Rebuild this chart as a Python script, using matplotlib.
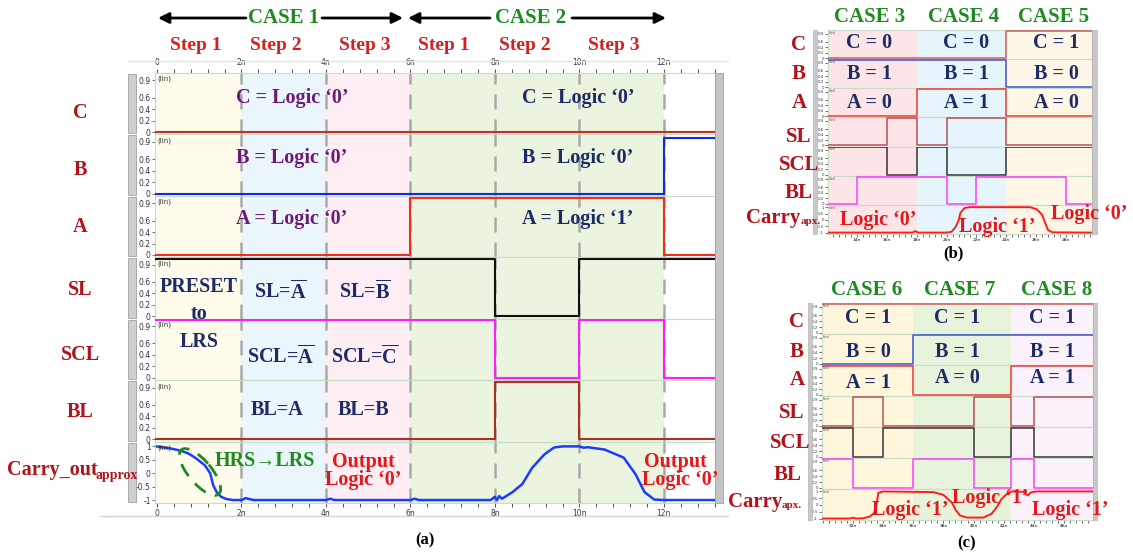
import matplotlib
matplotlib.use("Agg")
import matplotlib.pyplot as plt
from matplotlib.patches import Ellipse, Rectangle
from matplotlib.ticker import MultipleLocator

plt.rcParams['mathtext.fontset'] = 'custom'
plt.rcParams['mathtext.rm'] = 'Liberation Serif:bold'
plt.rcParams['mathtext.it'] = 'Liberation Serif:bold'
plt.rcParams['mathtext.bf'] = 'Liberation Serif:bold'

W, H = 1133, 554
SERIF = ['Liberation Serif', 'DejaVu Serif']

NAVY = '#1c2a66'
PURPLE = '#6e1a72'
DKRED = '#b3121a'
RED = '#e8161a'
GREEN = '#1f8a1f'

# ---------------- panel (a) data ----------------
a_rows = ['C', 'B', 'A', 'SL', 'SCL', 'BL']
a_xlim = (-0.047, 13.21)
a_steps = [(0, 2), (2, 4), (4, 6), (6, 12)]
a_step_colors = ['#fefbea', '#eaf6fb', '#fdeef3', '#eaf4df']
a_dashes = [2, 4, 6, 8, 10, 12]
a_C_t = [-0.05, 13.3]
a_C_v = [0]
a_B_t = [-0.05, 12, 13.3]
a_B_v = [0, 0.97]
a_A_t = [-0.05, 6, 12, 13.3]
a_A_v = [0, 1, 0]
a_SL_t = [-0.05, 8, 10, 13.3]
a_SL_v = [1, 0, 1]
a_SCL_t = [-0.05, 8, 10, 12, 13.3]
a_SCL_v = [1, 0, 1, 0]
a_BL_t = [-0.05, 8, 10, 13.3]
a_BL_v = [0, 1, 0]
a_colors = ['#c0302a', '#1426e6', '#f0301a', '#111111', '#ff1aff', '#b03020']
a_carry_t = [0, 0.1, 0.3, 0.54, 0.74, 0.93, 1.13, 1.26, 1.33, 1.41, 1.52, 1.64, 1.8,
             2.0, 2.1, 2.2, 2.3, 4.0, 4.1, 4.2, 6.0, 6.1, 6.2, 7.9, 8.0, 8.05, 8.1,
             8.17, 8.42, 8.65, 8.88, 9.17, 9.4, 9.6, 10.0, 10.1, 10.2, 10.6, 11.05,
             11.33, 11.54, 11.77, 12.0, 13.21]
a_carry_v = [1.0, 0.97, 0.93, 0.85, 0.74, 0.55, 0.3, 0.0, -0.44, -0.7, -0.88, -0.96, -1.0,
             -1.0, -0.93, -0.97, -1.0, -1.0, -0.95, -1.0, -1.0, -0.95, -1.0, -1.0, -0.88, -1.0, -0.85,
             -0.95, -0.7, -0.4, 0.2, 0.7, 0.96, 1.0, 1.0, 0.95, 0.97, 0.88, 0.58,
             -0.04, -0.7, -0.98, -1.0, -1.0]
a_ticks = [0, 2, 4, 6, 8, 10, 12]
a_ticklabels = ['0', '2n', '4n', '6n', '8n', '10n', '12n']

# ---------------- panel (b) data ----------------
b_xlim = (12.05, 29.75)
b_cases = [(12, 18), (18, 24), (24, 30)]
b_case_colors = ['#fde4e6', '#e6f4fb', '#fef6e6']
b_C_t = [12, 24, 30]
b_C_v = [0, 1]
b_B_t = [12, 24, 30]
b_B_v = [1, 0]
b_A_t = [12, 18, 24, 30]
b_A_v = [0, 1, 0]
b_SL_t = [12, 16, 18, 20, 24, 30]
b_SL_v = [0, 1, 0, 1, 0]
b_SCL_t = [12, 16, 18, 20, 24, 30]
b_SCL_v = [1, 0, 1, 0, 1]
b_BL_t = [12, 14, 20, 22, 28, 30]
b_BL_v = [0, 1, 0, 1, 0]
b_colors = ['#d05a5a', '#3a52d8', '#f03a30', '#b85050', '#333333', '#ff3cff']
b_carry_t = [12.05, 17.7, 17.9, 18.1, 19.9, 20.1, 20.34, 20.6, 20.8, 20.93, 21.2, 21.55,
             25.6, 26.05, 26.4, 26.6, 26.8, 27.1, 29.75]
b_carry_v = [-1, -1, -0.88, -1, -1, -0.98, -0.93, -0.56, -0.06, 0.55, 0.93, 1.0,
             1.0, 0.83, 0.4, -0.2, -0.8, -0.98, -1]
b_ticks = [14, 16, 18, 20, 22, 24, 26, 28]
b_ticklabels = ['14n', '16n', '18n', '20n', '22n', '24n', '26n', '28n']

# ---------------- panel (c) data ----------------
c_xlim = (29.94, 47.93)
c_cases = [(29, 36), (36, 42.5), (42.5, 48)]
c_case_colors = ['#fff6dc', '#e8f3dc', '#faf1fa']
c_C_t = [29.9, 48]
c_C_v = [1]
c_B_t = [29.9, 36, 48]
c_B_v = [0, 1]
c_A_t = [29.9, 36, 42.5, 48]
c_A_v = [1, 0, 1]
c_SL_t = [29.9, 32, 34, 40, 42.5, 44, 48]
c_SL_v = [0, 1, 0, 1, 0, 1]
c_SCL_t = [29.9, 32, 34, 40, 42.5, 44, 48]
c_SCL_v = [1, 0, 1, 0, 1, 0]
c_BL_t = [29.9, 32, 36, 40, 42.5, 44, 48]
c_BL_v = [1, 0, 1, 0, 1, 0]
c_colors = ['#c86060', '#3a52d8', '#f03a30', '#b85050', '#333333', '#ff3cff']
c_carry_t = [29.94, 31.8, 32.0, 32.2, 32.69, 33.13, 33.39, 33.57, 33.68, 34.0, 37.33,
             37.99, 38.55, 38.83, 39.1, 39.55, 40.65, 41.2, 41.54, 41.87, 42.2, 42.53,
             43.3, 43.6, 43.8, 44.2, 47.93]
c_carry_v = [-1, -1, -0.94, -1, -0.98, -0.85, -0.6, 0.1, 0.9, 1.0, 0.95,
             0.75, 0.2, -0.4, -0.77, -0.93, -0.93, -0.65, -0.16, 0.45, 0.8, 1.0,
             0.97, 0.7, 0.93, 1.0, 1.0]
c_ticks = [32, 34, 36, 38, 40, 42, 44, 46]
c_ticklabels = ['32n', '34n', '36n', '38n', '40n', '42n', '44n', '46n']


fig = plt.figure(figsize=(W / 100, H / 100), dpi=100)


def px_axes(x0, y0, x1, y1):
    return fig.add_axes([x0 / W, 1 - y1 / H, (x1 - x0) / W, (y1 - y0) / H])


def step_line(ax, ts, vs, color, lw):
    ax.step(ts, list(vs) + [vs[-1]], where='post', color=color, lw=lw, zorder=3)


def make_panel(x0, x1, ytop, ybot, xlim, spans, span_colors, sig_t, sig_v, colors,
               carry_t, carry_v, carry_color, lw, tfs, lin_fs):
    h = (ybot - ytop) / 7
    axes = []
    for i in range(7):
        ax = px_axes(x0, ytop + i * h, x1, ytop + (i + 1) * h)
        ax.set_xlim(*xlim)
        for (s0, s1), c in zip(spans, span_colors):
            ax.axvspan(s0, s1, color=c, lw=0, zorder=0)
        for sp in ax.spines.values():
            sp.set_color('#c6dcc6')
            sp.set_linewidth(0.8)
        ax.set_xticks([])
        if i < 6:
            step_line(ax, sig_t[i], sig_v[i], colors[i], lw)
            ax.set_ylim(-0.04, 1.03)
            ax.set_yticks([0, 0.2, 0.4, 0.6, 0.9])
            ax.set_yticklabels(['0', '0.2', '0.4', '0.6', '0.9'])
        else:
            ax.plot(carry_t, carry_v, color=carry_color, lw=lw + 0.3, zorder=3)
            ax.set_ylim(-1.11, 1.18)
            ax.set_yticks([-1, -0.5, 0, 0.5, 1])
            ax.set_yticklabels(['-1', '-0.5', '0', '0.5', '1'])
        ax.tick_params(axis='y', labelsize=tfs, length=2, pad=1, colors='#333333',
                       width=0.5)
        ax.text(0.004, 0.9, '(lin)', transform=ax.transAxes, fontsize=lin_fs,
                va='center', ha='left', color='#333333', zorder=4)
        axes.append(ax)
    return axes


# ---- panel (a)
a_sig_t = [a_C_t, a_B_t, a_A_t, a_SL_t, a_SCL_t, a_BL_t]
a_sig_v = [a_C_v, a_B_v, a_A_v, a_SL_v, a_SCL_v, a_BL_v]
axa = make_panel(155, 715, 73, 503, a_xlim, a_steps, a_step_colors, a_sig_t, a_sig_v,
                 a_colors, a_carry_t, a_carry_v, '#1a3cff', 1.5, 5.5, 5)
for ax in axa:
    for t in a_dashes:
        ax.axvline(t, color='#a9a9a9', lw=1.8, dashes=(6, 4), zorder=2)
top = axa[0]
top.xaxis.set_ticks_position('top')
top.set_xticks(a_ticks)
top.set_xticklabels(a_ticklabels)
top.xaxis.set_minor_locator(MultipleLocator(0.4))
top.tick_params(axis='x', which='both', labelsize=5.5, length=3, pad=1, width=0.6,
                colors='#333333')
bot = axa[-1]
bot.set_xticks(a_ticks)
bot.set_xticklabels(a_ticklabels)
bot.xaxis.set_minor_locator(MultipleLocator(0.4))
bot.tick_params(axis='x', which='both', labelsize=5.5, length=3, pad=1, width=0.6,
                colors='#333333')

# ---- panel (b)
b_sig_t = [b_C_t, b_B_t, b_A_t, b_SL_t, b_SCL_t, b_BL_t]
b_sig_v = [b_C_v, b_B_v, b_A_v, b_SL_v, b_SCL_v, b_BL_v]
axb = make_panel(828, 1092, 30, 234, b_xlim, b_cases, b_case_colors, b_sig_t, b_sig_v,
                 b_colors, b_carry_t, b_carry_v, '#ff1e1e', 1.1, 2.8, 2.5)
axb[-1].set_xticks(b_ticks)
axb[-1].set_xticklabels(b_ticklabels)
axb[-1].xaxis.set_minor_locator(MultipleLocator(0.4))
axb[-1].tick_params(axis='x', which='both', labelsize=3.2, length=2, pad=1, width=0.4)

# ---- panel (c)
c_sig_t = [c_C_t, c_B_t, c_A_t, c_SL_t, c_SCL_t, c_BL_t]
c_sig_v = [c_C_v, c_B_v, c_A_v, c_SL_v, c_SCL_v, c_BL_v]
axc = make_panel(822, 1093, 303, 520, c_xlim, c_cases, c_case_colors, c_sig_t, c_sig_v,
                 c_colors, c_carry_t, c_carry_v, '#ff1e1e', 1.1, 2.8, 2.5)
axc[-1].set_xticks(c_ticks)
axc[-1].set_xticklabels(c_ticklabels)
axc[-1].xaxis.set_minor_locator(MultipleLocator(0.4))
axc[-1].tick_params(axis='x', which='both', labelsize=3.2, length=2, pad=1, width=0.4)

# ---------------- overlay in pixel coordinates ----------------
ov = fig.add_axes([0, 0, 1, 1], zorder=10)
ov.set_xlim(0, W)
ov.set_ylim(H, 0)
ov.axis('off')
ov.patch.set_alpha(0)


def T(x, y, s, color, size, ha='center', va='center'):
    ov.text(x, y, s, color=color, fontsize=size, family=SERIF, weight='bold',
            ha=ha, va=va)


# scroll bars / frame decorations
h_a = (503 - 73) / 7
for i in range(7):
    ov.add_patch(Rectangle((128, 73 + i * h_a + 1), 8, h_a - 2, fc='#cfcfcf',
                           ec='#a0a0a0', lw=0.6))
ov.add_patch(Rectangle((715, 73), 8, 430, fc='#c4c4c4', ec='#a0a0a0', lw=0.6))
ov.plot([128, 728], [61, 61], color='#d8ead8', lw=1)
ov.plot([100, 728], [516, 516], color='#c6dcc6', lw=1)
ov.add_patch(Rectangle((813, 30), 4, 204, fc='#c8c8c8', ec='#a8a8a8', lw=0.4))
ov.add_patch(Rectangle((1092, 30), 5, 204, fc='#c8c8c8', ec='#a8a8a8', lw=0.4))
ov.add_patch(Rectangle((808, 303), 4, 217, fc='#c8c8c8', ec='#a8a8a8', lw=0.4))
ov.add_patch(Rectangle((1093, 303), 4, 217, fc='#c8c8c8', ec='#a8a8a8', lw=0.4))

# panel (a) headers
arrow = dict(arrowstyle='-|>', lw=2, color='black', mutation_scale=16,
             shrinkA=0, shrinkB=0)
ov.annotate('', xy=(158, 18), xytext=(246, 18), arrowprops=arrow)
ov.annotate('', xy=(403, 18), xytext=(322, 18), arrowprops=arrow)
ov.annotate('', xy=(408, 18), xytext=(490, 18), arrowprops=arrow)
ov.annotate('', xy=(666, 18), xytext=(572, 18), arrowprops=arrow)
T(284, 18, 'CASE 1', GREEN, 15)
T(531, 18, 'CASE 2', GREEN, 15)
for x, s in zip([196, 276, 365, 444, 525, 614],
                ['Step 1', 'Step 2', 'Step 3', 'Step 1', 'Step 2', 'Step 3']):
    T(x, 45, s, '#d81e1e', 14)

# panel (a) annotations
for y, s1, s2 in [(98, 'C = Logic ‘0’', 'C = Logic ‘0’'),
                  (158, 'B = Logic ‘0’', 'B = Logic ‘0’'),
                  (219, 'A = Logic ‘0’', 'A = Logic ‘1’')]:
    T(292, y, s1, PURPLE, 14.5)
    T(578, y, s2, NAVY, 14.5)
T(199, 287, 'PRESET', NAVY, 14.5)
T(199, 314, 'to', NAVY, 14.5)
T(199, 342, 'LRS', NAVY, 14.5)
T(280, 292, r'SL=$\overline{\rm A}$', NAVY, 14.5)
T(365, 292, r'SL=$\overline{\rm B}$', NAVY, 14.5)
T(281, 357, r'SCL=$\overline{\rm A}$', NAVY, 14.5)
T(365, 357, r'SCL=$\overline{\rm C}$', NAVY, 14.5)
T(277, 410, 'BL=A', NAVY, 14.5)
T(364, 410, 'BL=B', NAVY, 14.5)
T(265, 461, 'HRS→LRS', GREEN, 14.5)
T(363, 462, 'Output', RED, 14.5)
T(363, 480, 'Logic ‘0’', RED, 14.5)
T(675, 462, 'Output', RED, 14.5)
T(680, 480, 'Logic ‘0’', RED, 14.5)
ov.add_patch(Ellipse((200, 472), 58, 23, angle=50, fill=False, ec=GREEN, lw=2,
                     ls=(0, (5, 3.5))))
for y, s in zip([113, 170, 227, 290, 355, 412], a_rows):
    T(80, y, s, DKRED, 14.5)
T(7, 470, 'Carry_out', DKRED, 14.5, ha='left')
T(95, 475, 'approx', DKRED, 10, ha='left')
T(425, 540, '(a)', 'black', 12)

# panel (b)
for x, s in zip([870, 964, 1054], ['CASE 3', 'CASE 4', 'CASE 5']):
    T(x, 17, s, GREEN, 15)
for y, labs in [(43, ['C = 0', 'C = 0', 'C = 1']), (74, ['B = 1', 'B = 1', 'B = 0']),
                (103, ['A = 0', 'A = 1', 'A = 0'])]:
    for x, s in zip([869, 966, 1056], labs):
        T(x, y, s, NAVY, 14.5)
for y, s in zip([45, 74, 103, 137, 165, 193], a_rows):
    T(799, y, s, DKRED, 15)
T(746, 218, 'Carry', DKRED, 15, ha='left')
T(801, 222, 'apx.', DKRED, 8, ha='left')
T(878, 220, 'Logic ‘0’', RED, 14.5)
T(997, 227, 'Logic ‘1’', RED, 14.5)
T(1089, 214, 'Logic ‘0’', RED, 14.5)
T(953, 253, '(b)', 'black', 12)

# panel (c)
for x, s in zip([867, 960, 1057], ['CASE 6', 'CASE 7', 'CASE 8']):
    T(x, 290, s, GREEN, 15)
for y, labs in [((318, 318, 318), ['C = 1', 'C = 1', 'C = 1']),
                ((352, 352, 352), ['B = 0', 'B = 1', 'B = 1']),
                ((383, 378, 378), ['A = 1', 'A = 0', 'A = 1'])]:
    for x, yy, s in zip([868, 957, 1052], y, labs):
        T(x, yy, s, NAVY, 14.5)
for x, y, s in zip([797, 797, 797, 792, 790, 788], [322, 352, 380, 413, 443, 475], a_rows):
    T(x, y, s, DKRED, 15)
T(728, 502, 'Carry', DKRED, 15, ha='left')
T(782, 506, 'apx.', DKRED, 8, ha='left')
T(910, 510, 'Logic ‘1’', RED, 14.5)
T(990, 498, 'Logic ‘1’', RED, 14.5)
T(1070, 510, 'Logic ‘1’', RED, 14.5)
T(967, 543, '(c)', 'black', 12)

fig.savefig('out.png', dpi=100)
